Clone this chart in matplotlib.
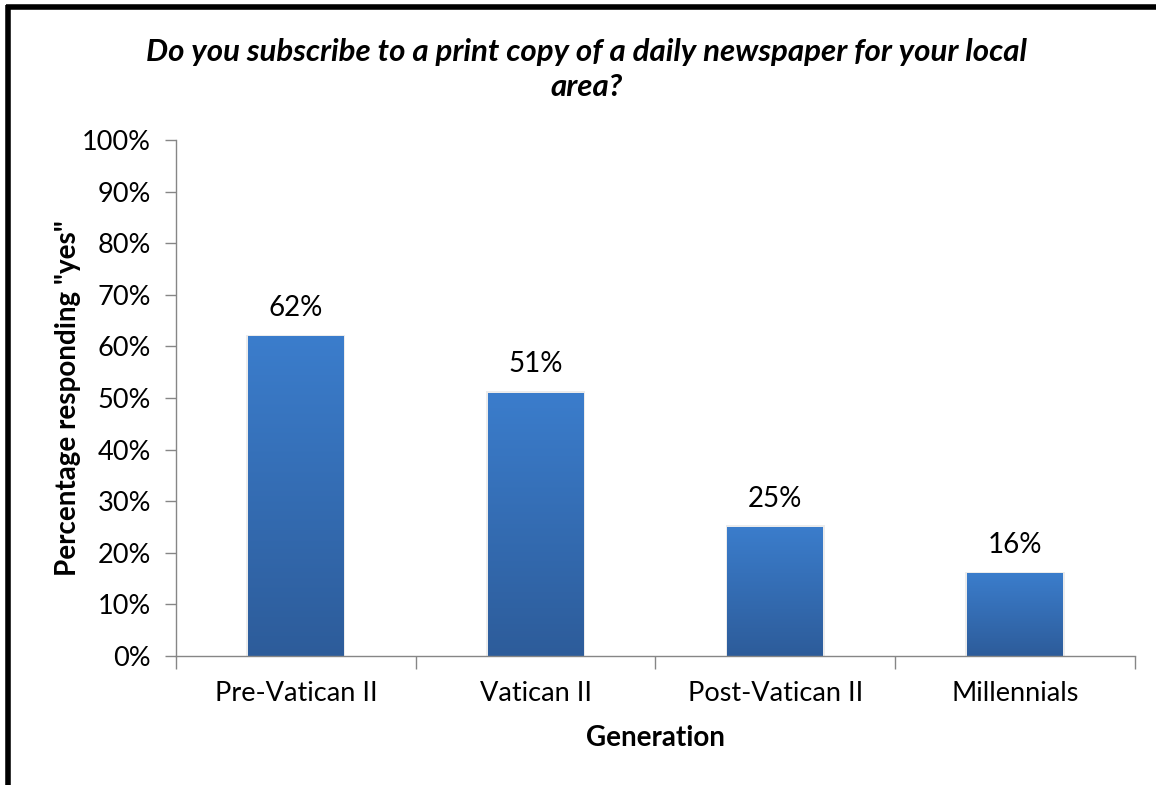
import numpy as np
import matplotlib
matplotlib.use("Agg")
import matplotlib.pyplot as plt
from matplotlib.colors import LinearSegmentedColormap
from matplotlib.ticker import PercentFormatter

categories = ["Pre-Vatican II", "Vatican II", "Post-Vatican II", "Millennials"]
values = [62, 51, 25, 16]
labels = ["62%", "51%", "25%", "16%"]

plt.rcParams["font.family"] = ["Lato", "DejaVu Sans"]

fig = plt.figure(figsize=(11.56, 7.85), dpi=100)
ax = fig.add_axes([0.1522, 0.1643, 0.8296, 0.6574])

x = np.arange(len(categories))
bars = ax.bar(x, values, width=0.4, color="none", edgecolor="none", zorder=2)

# vertical gradient fill, lighter at the top
grad_cmap = LinearSegmentedColormap.from_list("bar", ["#2D5C9A", "#3B7DCC"])
grad = np.linspace(0, 1, 256).reshape(-1, 1)
for b in bars:
    x0, y0 = b.get_x(), b.get_y()
    w, h = b.get_width(), b.get_height()
    # soft shadow
    ax.bar(x0 + w / 2, h + 0.3, width=w + 0.014, color="#ececec", zorder=1)
    im = ax.imshow(grad, extent=(x0, x0 + w, y0, y0 + h), origin="lower",
                   cmap=grad_cmap, aspect="auto", zorder=2)
    im.set_clip_path(b)

for xi, v, lab in zip(x, values, labels):
    ax.text(xi, v + 3.0, lab, ha="center", va="bottom", fontsize=20, color="#000000")

ax.set_xlim(-0.5, len(categories) - 0.5)
ax.set_ylim(0, 100)
ax.set_yticks(np.arange(0, 101, 10))
ax.yaxis.set_major_formatter(PercentFormatter(decimals=0))
ax.set_xticks(x)
ax.set_xticklabels(categories)
ax.set_xticks(np.arange(-0.5, len(categories), 1), minor=True)
ax.tick_params(axis="x", which="major", length=0, pad=18, labelsize=19.5)
ax.tick_params(axis="x", which="minor", length=9, color="#868686", width=1)
ax.tick_params(axis="y", length=8, color="#868686", width=1, pad=10, labelsize=19.5)

for s in ["top", "right"]:
    ax.spines[s].set_visible(False)
for s in ["left", "bottom"]:
    ax.spines[s].set_color("#868686")
    ax.spines[s].set_linewidth(1)

ax.set_ylabel('Percentage responding "yes"', fontsize=20, fontweight="bold", labelpad=1)
ax.set_xlabel("Generation", fontsize=20, fontweight="bold", labelpad=14)

fig.text(0.507, 0.911, "Do you subscribe to a print copy of a daily newspaper for your local\narea?",
         ha="center", va="center", fontsize=22.5, fontweight="bold", style="italic",
         linespacing=1.3)

# black frame on left and top edges
fig.add_artist(plt.Line2D([0.0065, 0.0065], [0, 0.9935], transform=fig.transFigure,
                          color="black", linewidth=4, solid_capstyle="butt"))
fig.add_artist(plt.Line2D([0.0048, 1.0], [0.9917, 0.9917], transform=fig.transFigure,
                          color="black", linewidth=4, solid_capstyle="butt"))

fig.savefig("out.png", dpi=100)
